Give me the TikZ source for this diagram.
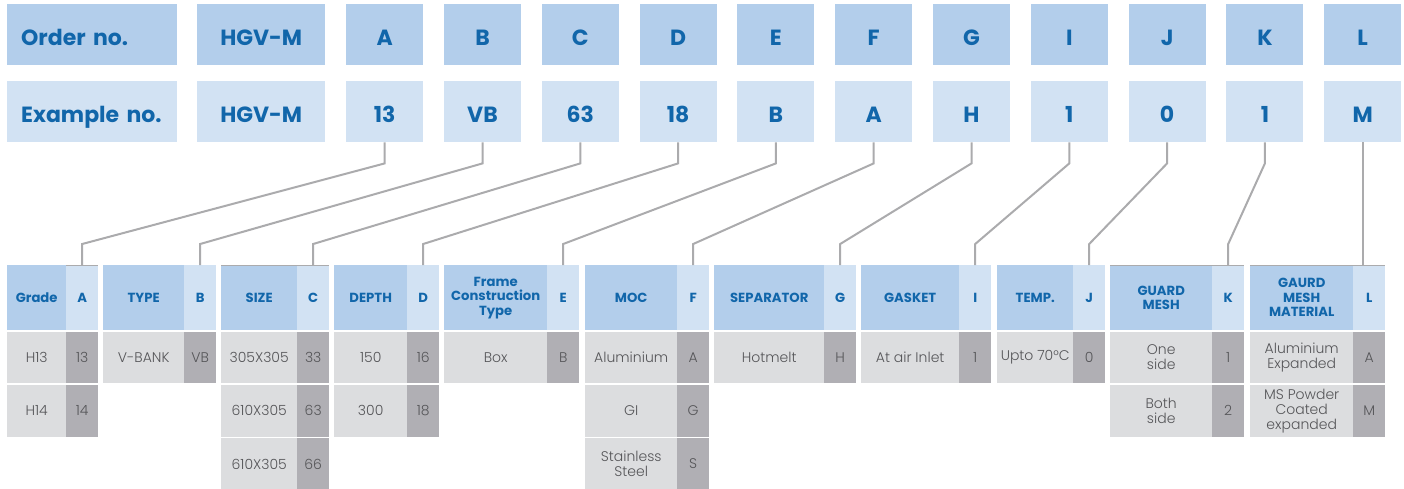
\documentclass[tikz,border=0pt]{standalone}
\usepackage{fontspec}
\setmainfont{Poppins}
\newfontfamily\lightfont{Poppins Light}
\usetikzlibrary{positioning}

\definecolor{hdrblue}{HTML}{B3CEEB}
\definecolor{paleblue}{HTML}{D2E2F3}
\definecolor{txtblue}{HTML}{1166AA}
\definecolor{cellgray}{HTML}{DCDDDF}
\definecolor{codegray}{HTML}{B0AFB4}
\definecolor{linegray}{HTML}{ABABAD}
\definecolor{bodytxt}{HTML}{555558}

\tikzset{
  topbox/.style={anchor=north west, inner sep=0pt, minimum height=61pt, text=txtblue,
    text height=22.4pt, text depth=0pt, font=\fontsize{22}{22}\selectfont\bfseries},
  ordbox/.style={topbox, fill=hdrblue},
  exbox/.style={topbox, fill=paleblue},
  lefttext/.style={text width=170pt, align=left},
  hdrname/.style={anchor=north west, inner sep=0pt, minimum height=65pt, fill=hdrblue, text=txtblue,
    align=center, font=\fontsize{13.2}{14.5}\selectfont\bfseries},
  hdrcode/.style={hdrname, fill=paleblue},
  cellname/.style={anchor=north west, inner sep=0pt, minimum height=51.5pt, fill=cellgray, text=bodytxt,
    align=center, font=\fontsize{14}{15}\selectfont\lightfont},
  cellcode/.style={cellname, fill=codegray},
  link/.style={draw=linegray, line width=2pt},
  tick/.style={draw=linegray, line width=1pt}
}

\begin{document}
\begin{tikzpicture}[x=1pt, y=-1pt]
    \useasboundingbox (0,0) rectangle (1404,489);
    % order and example rows
    \node[ordbox, lefttext] (ord0) at (7,4) {\hspace*{14pt}Order no.};
    \node[exbox, lefttext] (ex0) at (7,81) {\hspace*{14pt}Example no.};
    \node[ordbox, minimum width=128pt] (ordm) at (197,4) {HGV-M};
    \node[exbox, minimum width=128pt] (exm) at (197,81) {HGV-M};
    \foreach \l/\v [count=\i] in {A/13,B/VB,C/63,D/18,E/B,F/A,G/H,I/1,J/0,K/1,L/M} {
        \node[ordbox, minimum width=77pt] (ord\i) at ({346+97.8*(\i-1)},4) {\l};
        \node[exbox, minimum width=77pt] (ex\i) at ({346+97.8*(\i-1)},81) {\v};
    }
    % code tables
    \foreach \i/\xa/\xb/\xc/\hd/\lt/\rows in {
        1/7/66/98/Grade/A/{H13/13,H14/14},
        2/103/184/216/TYPE/B/{V-BANK/VB},
        3/221/297/329/SIZE/C/{305X305/33,610X305/63,610X305/66},
        4/334/407/439/DEPTH/D/{150/16,300/18},
        5/444/547/579/{Frame\\Construction\\Type}/E/{Box/B},
        6/585/677/709/MOC/F/{Aluminium/A,GI/G,Stainless\\Steel/S},
        7/714/824/856/SEPARATOR/G/{Hotmelt/H},
        8/861/959/991/GASKET/I/{At air Inlet/1},
        9/997/1073/1105/TEMP./J/{Upto 70°C/0},
        10/1110/1212/1244/{GUARD\\MESH}/K/{One\\side/1,Both\\side/2},
        11/1250/1353/1385/{GAURD\\MESH\\MATERIAL}/L/{Aluminium\\Expanded/A,MS Powder\\Coated\\expanded/M}} {
        \node[hdrname, minimum width={(\xb-\xa)*1pt}] (hd\i) at (\xa,265) {\hd};
        \node[hdrcode, minimum width={(\xc-\xb)*1pt}] (code\i) at (\xb,265) {\lt};
        \foreach \r/\c [count=\k] in \rows {
            \node[cellname, minimum width={(\xb-\xa)*1pt}] (row\i-\k) at (\xa,{331.5+53.3*(\k-1)}) {\r};
            \node[cellcode, minimum width={(\xc-\xb)*1pt}] (val\i-\k) at (\xb,{331.5+53.3*(\k-1)}) {\c};
        }
    }
    % connectors
    \foreach \i in {1,...,10} {
        \draw[link] (ex\i.south) -- ++(0,21) -- ([yshift=21pt]code\i.north) -- (code\i.north);
    }
    \draw[link] (ex11.south) -- (ex11.south |- code11.north);
    \draw[tick] (code1.north west) -- (code1.north east);
    \foreach \i in {3,10,11} {
        \draw[tick] (hd\i.north west) -- (code\i.north east);
    }
\end{tikzpicture}
\end{document}
